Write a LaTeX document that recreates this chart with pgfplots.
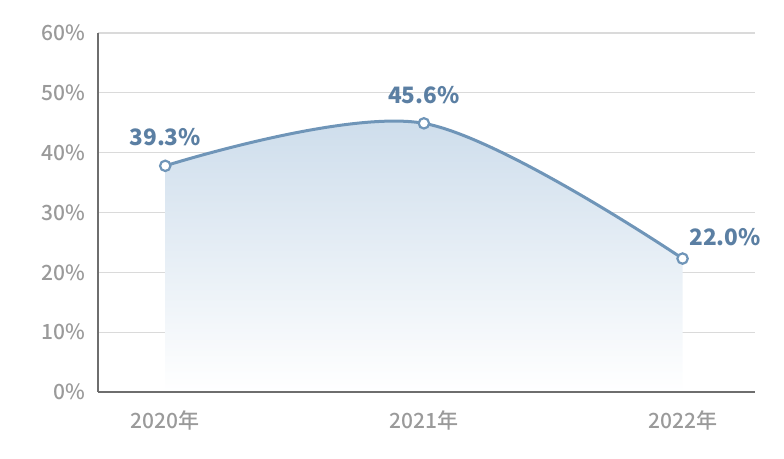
\documentclass[border=0pt]{standalone}
\usepackage{pgfplots}
\pgfplotsset{compat=1.18}
\usepackage{fontspec}
\setmainfont{Noto Sans CJK SC}
\newfontfamily\medfont{Noto Sans CJK SC Medium}
\definecolor{lineblue}{HTML}{6F95B8}
\definecolor{labelblue}{HTML}{5B7FA3}
\definecolor{tickgray}{HTML}{9A9A9A}
\definecolor{gridgray}{HTML}{DADADA}
\definecolor{axisgray}{HTML}{6E6E6E}
\definecolor{filltop}{HTML}{CCDCEB}
\begin{document}
\begin{tikzpicture}
\useasboundingbox (0,0) rectangle (392pt,229.5pt);
\begin{axis}[
  at={(49pt,33.5pt)}, anchor=south west,
  scale only axis, width=328.5pt, height=179.5pt,
  xmin=-0.26, xmax=2.28, ymin=0, ymax=60,
  axis line style={draw=none},
  ytick={0,10,20,30,40,50,60},
  yticklabels={0\%,10\%,20\%,30\%,40\%,50\%,60\%},
  xtick={0,1,2},
  xticklabels={2020年,2021年,2022年},
  major tick length=0pt,
  ymajorgrids, grid style={gridgray, line width=0.6pt},
  tick label style={font=\medfont\fontsize{10.5}{12}\selectfont, text=tickgray},
  yticklabel style={xshift=-3pt},
  xticklabel style={yshift=-6pt},
  clip=false,
]
\addplot[draw=none, top color=filltop, bottom color=white, smooth, tension=0.55]
  coordinates {(0,37.8) (1,44.9) (2,22.3)} \closedcycle;
\draw[axisgray, line width=0.6pt] (axis cs:-0.26,0) -- (axis cs:-0.26,60);
\draw[axisgray, line width=0.9pt] (axis cs:-0.26,0) -- (axis cs:2.28,0);
\addplot[lineblue, line width=1.5pt, smooth, tension=0.55, mark=*, mark size=2.6pt,
  mark options={fill=white, draw=lineblue, line width=1.1pt}]
  coordinates {(0,37.8) (1,44.9) (2,22.3)};
\node[text=labelblue, font=\fontsize{11.3}{13}\selectfont\bfseries] at (axis cs:0,42.6) {39.3\%};
\node[text=labelblue, font=\fontsize{11.3}{13}\selectfont\bfseries] at (axis cs:1,49.6) {45.6\%};
\node[text=labelblue, font=\fontsize{11.3}{13}\selectfont\bfseries, anchor=west, inner sep=0pt] at (axis cs:2.025,25.9) {22.0\%};
\end{axis}
\end{tikzpicture}
\end{document}
